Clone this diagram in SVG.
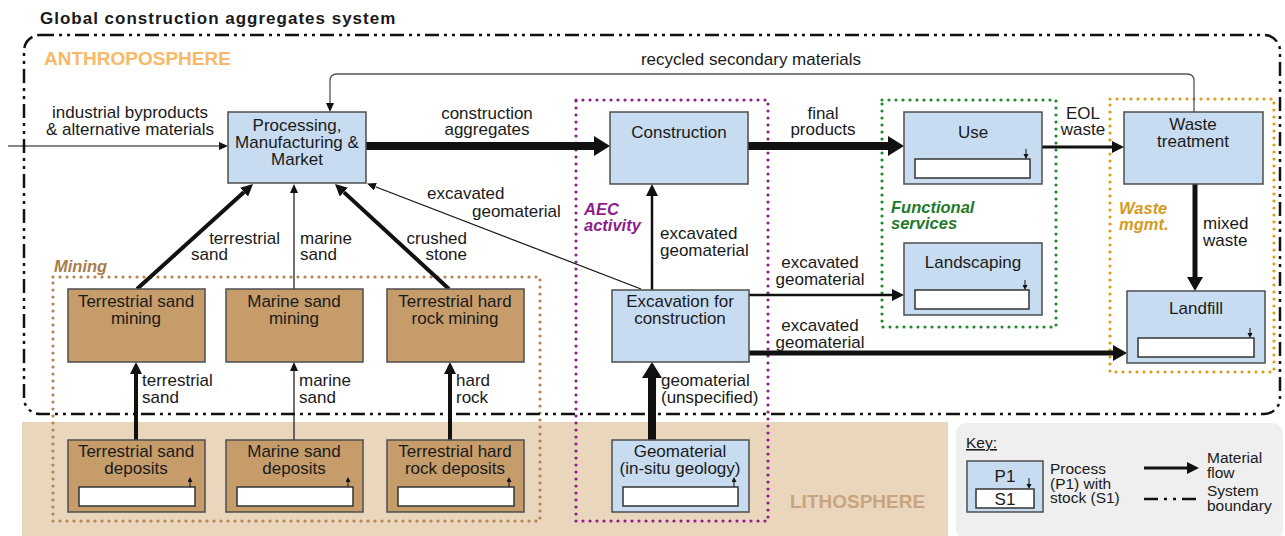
<svg xmlns="http://www.w3.org/2000/svg" width="1285" height="536" viewBox="0 0 1285 536">
<style>
text{font-family:"Liberation Sans",Arial,sans-serif;fill:#1a1a1a;font-size:17px}
.c{text-anchor:middle}
.e{text-anchor:end}
.k{font-size:15.5px}
.proc{fill:#c8dcf1;stroke:#4d4d4d;stroke-width:1.5}
.mine{fill:#c69c6b;stroke:#4d4d4d;stroke-width:1.5}
.stock{fill:#fff;stroke:#333;stroke-width:1.5}
.dot{fill:none;stroke-width:3.2;stroke-linecap:round;stroke-dasharray:0 7}
.glab{font-weight:bold;font-style:italic;font-size:16.5px}
.f{fill:none;stroke:#111}
.sa{stroke:#111;stroke-width:1}
.big{font-weight:bold;font-size:19px}
</style>
<defs>
<marker id="ahs" markerUnits="userSpaceOnUse" markerWidth="10" markerHeight="8" refX="0" refY="4" orient="auto"><path d="M0,0L9,4L0,8z" fill="#111"/></marker>
<marker id="ahm" markerUnits="userSpaceOnUse" markerWidth="13" markerHeight="12" refX="0" refY="6" orient="auto"><path d="M0,0L12,6L0,12z" fill="#111"/></marker>
<marker id="ahml" markerUnits="userSpaceOnUse" markerWidth="15" markerHeight="16" refX="0" refY="8" orient="auto"><path d="M0,0L14,8L0,16z" fill="#111"/></marker>
<marker id="ahl" markerUnits="userSpaceOnUse" markerWidth="17" markerHeight="20" refX="0" refY="10" orient="auto"><path d="M0,0L16,10L0,20z" fill="#111"/></marker>
<marker id="ahx" markerUnits="userSpaceOnUse" markerWidth="6" markerHeight="6" refX="0" refY="2.5" orient="auto"><path d="M0,0L5,2.5L0,5z" fill="#111"/></marker>
</defs>

<!-- backgrounds -->
<rect id="lithosphere-bg" x="22" y="422" width="926" height="114" fill="#e9d6bd"/>
<rect id="key-bg" x="956" y="423" width="327" height="116" rx="10" fill="#efefef"/>

<text x="40" y="24" font-weight="bold" font-size="20.5px" letter-spacing="1">Global construction aggregates system</text>
<text x="44" y="65" class="big" style="fill:#f7b867">ANTHROPOSPHERE</text>
<text x="790" y="508" class="big" style="fill:#c9a57f">LITHOSPHERE</text>

<!-- group boundaries -->
<g id="groups">
<rect x="53" y="277" width="487" height="244" class="dot" stroke="#b3844f"/>
<rect x="576" y="100" width="192" height="421" class="dot" stroke="#8e1c8c"/>
<rect x="882" y="100" width="174" height="227" class="dot" stroke="#1f8a2e"/>
<rect x="1110" y="99" width="164" height="273" class="dot" stroke="#d99c1c"/>
<text x="54" y="272" class="glab" style="fill:#a97c4b">Mining</text>
<text x="584" y="215" class="glab" style="fill:#8e1c8c">AEC</text>
<text x="584" y="231" class="glab" style="fill:#8e1c8c">activity</text>
<text x="891" y="213" class="glab" style="fill:#237a2e">Functional</text>
<text x="891" y="229" class="glab" style="fill:#237a2e">services</text>
<text x="1119" y="214" class="glab" style="fill:#d49a1e">Waste</text>
<text x="1119" y="230" class="glab" style="fill:#d49a1e">mgmt.</text>
</g>

<!-- system boundary -->
<rect id="system-boundary" x="24" y="35" width="1256" height="379" rx="16" fill="none" stroke="#111" stroke-width="2.5" stroke-dasharray="14 5 3 5 3 5"/>

<!-- connectors -->
<g id="connectors">
<line x1="8" y1="146" x2="219" y2="146" class="f" stroke-width="1.2" marker-end="url(#ahs)"/>
<line x1="366" y1="146" x2="594" y2="146" class="f" stroke-width="8" marker-end="url(#ahl)"/>
<line x1="748" y1="146" x2="888" y2="146" class="f" stroke-width="8" marker-end="url(#ahl)"/>
<line x1="1042" y1="147" x2="1112" y2="147" class="f" stroke-width="3" marker-end="url(#ahm)"/>
<path d="M1194,112V81Q1194,74 1187,74H337Q330,74 330,81V103" fill="none" stroke="#555" stroke-width="1.3" marker-end="url(#ahs)"/>
<line x1="1195" y1="184" x2="1195" y2="277" class="f" stroke-width="5" marker-end="url(#ahml)"/>
<line x1="652" y1="290" x2="652" y2="196" class="f" stroke-width="2.5" marker-end="url(#ahm)"/>
<line x1="641" y1="289" x2="375.4" y2="186.7" class="f" stroke-width="1.2" marker-end="url(#ahs)"/>
<line x1="749" y1="295" x2="892" y2="295" class="f" stroke-width="2.5" marker-end="url(#ahm)"/>
<line x1="749" y1="353" x2="1113" y2="353" class="f" stroke-width="5" marker-end="url(#ahml)"/>
<line x1="652" y1="440" x2="652" y2="378" class="f" stroke-width="8" marker-end="url(#ahl)"/>
<line x1="137" y1="289" x2="244.1" y2="192.1" class="f" stroke-width="4" marker-end="url(#ahm)"/>
<line x1="294" y1="289" x2="294" y2="193" class="f" stroke-width="1.2" marker-end="url(#ahs)"/>
<line x1="449" y1="289" x2="343.8" y2="192.1" class="f" stroke-width="4" marker-end="url(#ahm)"/>
<line x1="136" y1="440" x2="136" y2="374" class="f" stroke-width="4" marker-end="url(#ahm)"/>
<line x1="294" y1="440" x2="294" y2="371" class="f" stroke-width="1.2" marker-end="url(#ahs)"/>
<line x1="450" y1="440" x2="450" y2="374" class="f" stroke-width="4" marker-end="url(#ahm)"/>

<text x="751" y="65" class="c">recycled secondary materials</text>
<text x="130" y="118" class="c">industrial byproducts</text>
<text x="130" y="135" class="c">&amp; alternative materials</text>
<text x="487" y="119" class="c">construction</text>
<text x="487" y="135" class="c">aggregates</text>
<text x="823" y="119" class="c">final</text>
<text x="823" y="135" class="c">products</text>
<text x="1083" y="119" class="c">EOL</text>
<text x="1083" y="135" class="c">waste</text>
<text x="427" y="199">excavated</text>
<text x="472" y="217">geomaterial</text>
<text x="660" y="239">excavated</text>
<text x="660" y="256">geomaterial</text>
<text x="820" y="268" class="c">excavated</text>
<text x="820" y="285" class="c">geomaterial</text>
<text x="820" y="331" class="c">excavated</text>
<text x="820" y="348" class="c">geomaterial</text>
<text x="661" y="386">geomaterial</text>
<text x="661" y="403">(unspecified)</text>
<text x="280" y="244" class="e">terrestrial</text>
<text x="191" y="260">sand</text>
<text x="300" y="244">marine</text>
<text x="300" y="260">sand</text>
<text x="467" y="244" class="e">crushed</text>
<text x="467" y="260" class="e">stone</text>
<text x="142" y="386">terrestrial</text>
<text x="142" y="403">sand</text>
<text x="299" y="386">marine</text>
<text x="299" y="403">sand</text>
<text x="456" y="386">hard</text>
<text x="456" y="403">rock</text>
<text x="1203" y="229">mixed</text>
<text x="1203" y="246">waste</text>
</g>

<!-- nodes -->
<g id="processing">
<rect x="228" y="112" width="138" height="71" class="proc"/>
<text x="297" y="131" class="c">Processing,</text>
<text x="297" y="148" class="c">Manufacturing &amp;</text>
<text x="297" y="165" class="c">Market</text>
</g>
<g id="construction">
<rect x="610" y="112" width="138" height="72" class="proc"/>
<text x="679" y="138" class="c">Construction</text>
</g>
<g id="use">
<rect x="904" y="112" width="138" height="72" class="proc"/>
<text x="973" y="138" class="c">Use</text>
<rect x="915" y="159" width="115" height="19" class="stock"/>
<line x1="1026" y1="149" x2="1026" y2="154" class="sa" marker-end="url(#ahx)"/>
</g>
<g id="waste-treatment">
<rect x="1124" y="112" width="139" height="72" class="proc"/>
<text x="1193" y="130" class="c">Waste</text>
<text x="1193" y="147" class="c">treatment</text>
</g>
<g id="landscaping">
<rect x="904" y="243" width="138" height="72" class="proc"/>
<text x="973" y="268" class="c">Landscaping</text>
<rect x="915" y="290" width="114" height="19" class="stock"/>
<line x1="1025" y1="280" x2="1025" y2="285" class="sa" marker-end="url(#ahx)"/>
</g>
<g id="landfill">
<rect x="1127" y="291" width="138" height="72" class="proc"/>
<text x="1196" y="314" class="c">Landfill</text>
<rect x="1138" y="338" width="116" height="19" class="stock"/>
<line x1="1250" y1="328" x2="1250" y2="333" class="sa" marker-end="url(#ahx)"/>
</g>
<g id="excavation">
<rect x="612" y="290" width="137" height="72" class="proc"/>
<text x="680" y="307" class="c">Excavation for</text>
<text x="680" y="324" class="c">construction</text>
</g>
<g id="geomaterial">
<rect x="612" y="440" width="137" height="72" class="proc"/>
<text x="680" y="457" class="c">Geomaterial</text>
<text x="680" y="474" class="c">(in-situ geology)</text>
<rect x="623" y="487" width="115" height="19" class="stock"/>
<line x1="734" y1="487" x2="734" y2="482" class="sa" marker-end="url(#ahx)"/>
</g>
<g id="terrestrial-sand-mining">
<rect x="68" y="289" width="137" height="73" class="mine"/>
<text x="136" y="307" class="c">Terrestrial sand</text>
<text x="136" y="324" class="c">mining</text>
</g>
<g id="marine-sand-mining">
<rect x="226" y="289" width="137" height="73" class="mine"/>
<text x="294" y="307" class="c">Marine sand</text>
<text x="294" y="324" class="c">mining</text>
</g>
<g id="hard-rock-mining">
<rect x="387" y="289" width="137" height="73" class="mine"/>
<text x="455" y="307" class="c">Terrestrial hard</text>
<text x="455" y="324" class="c">rock mining</text>
</g>
<g id="terrestrial-sand-deposits">
<rect x="68" y="440" width="137" height="72" class="mine"/>
<text x="136" y="457" class="c">Terrestrial sand</text>
<text x="136" y="474" class="c">deposits</text>
<rect x="79" y="487" width="116" height="19" class="stock"/>
<line x1="190" y1="487" x2="190" y2="482" class="sa" marker-end="url(#ahx)"/>
</g>
<g id="marine-sand-deposits">
<rect x="226" y="440" width="137" height="72" class="mine"/>
<text x="294" y="457" class="c">Marine sand</text>
<text x="294" y="474" class="c">deposits</text>
<rect x="237" y="487" width="116" height="19" class="stock"/>
<line x1="348" y1="487" x2="348" y2="482" class="sa" marker-end="url(#ahx)"/>
</g>
<g id="hard-rock-deposits">
<rect x="387" y="440" width="137" height="72" class="mine"/>
<text x="455" y="457" class="c">Terrestrial hard</text>
<text x="455" y="474" class="c">rock deposits</text>
<rect x="398" y="487" width="116" height="19" class="stock"/>
<line x1="509" y1="487" x2="509" y2="482" class="sa" marker-end="url(#ahx)"/>
</g>

<!-- key -->
<g id="key">
<text x="966" y="448" class="k" text-decoration="underline">Key:</text>
<rect x="967" y="461" width="76" height="51" class="proc"/>
<text x="1005" y="482" class="c">P1</text>
<rect x="976" y="489" width="58" height="19" class="stock"/>
<text x="1005" y="505" class="c">S1</text>
<line x1="1029" y1="478" x2="1029" y2="484" class="sa" marker-end="url(#ahx)"/>
<text x="1050" y="474" class="k">Process</text>
<text x="1050" y="488.5" class="k">(P1) with</text>
<text x="1050" y="503" class="k">stock (S1)</text>
<line x1="1144" y1="468" x2="1187" y2="468" class="f" stroke-width="3" marker-end="url(#ahm)"/>
<line x1="1144" y1="499" x2="1199" y2="499" stroke="#111" stroke-width="2.5" stroke-dasharray="14 6 3 6 3 6"/>
<text x="1207" y="463" class="k">Material</text>
<text x="1207" y="477.5" class="k">flow</text>
<text x="1207" y="496" class="k">System</text>
<text x="1207" y="510.5" class="k">boundary</text>
</g>
</svg>
